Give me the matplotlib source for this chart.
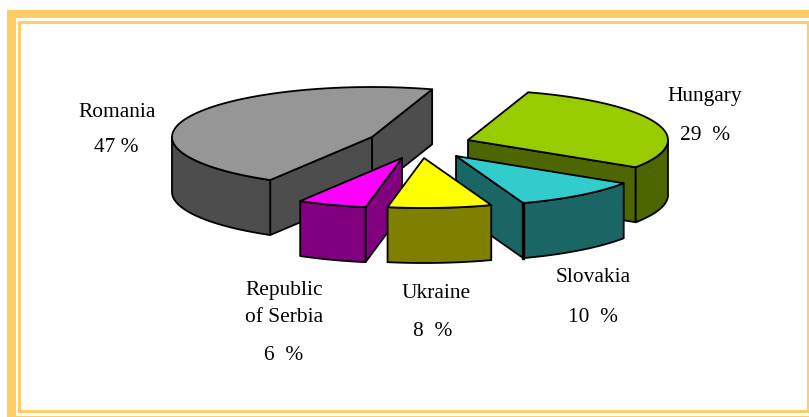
import numpy as np
import matplotlib
matplotlib.use('Agg')
import matplotlib.pyplot as plt
from matplotlib.patches import Polygon, Rectangle

# data, clockwise round the pie (slice sizes)
countries = ['Hungary', 'Slovakia', 'Ukraine', 'Republic\nof Serbia', 'Romania']
shares = [29.4, 10.4, 8.4, 5.6, 46.5]
share_labels = ['29  %', '10  %', '8  %', '6  %', '47 %']

# colours per slice
top_colors = ['#99cc00', '#33cccc', '#ffff00', '#ff00ff', '#969696']
wall_colors = ['#4d6600', '#1a6666', '#808000', '#800080', '#4d4d4d']

# layout, in pixels of the 809x417 picture
apexes = [(468, 140), (456, 156), (424, 158), (402, 158), (372, 137)]
name_pos = [(705, 96), (593, 278), (436, 293), (284, 304), (117, 112)]
pct_pos = [(705, 136), (593, 318), (433, 331), (284, 355), (116, 148)]
draw_order = [4, 0, 1, 3, 2]
radius_x = 200
radius_y = 50
depth = 55
frame = '#ffcc66'

plt.rcParams['font.family'] = 'Liberation Serif'
fig = plt.figure(figsize=(8.09, 4.17), dpi=100)
ax = fig.add_axes([0, 0, 1, 1])
ax.set_xlim(0, 809)
ax.set_ylim(417, 0)
ax.axis('off')

# gold frame, runs off the right and bottom of the picture
ax.add_patch(Rectangle((7, 10), 810, 410, fc=frame, ec='none', zorder=1))
ax.add_patch(Rectangle((16, 17.5), 800, 398.5, fc='white', ec='none', zorder=1))
ax.add_patch(Rectangle((18, 21), 800, 392, fc=frame, ec='none', zorder=1))
ax.add_patch(Rectangle((21, 24), 786, 386, fc='white', ec='none', zorder=1))


def draw_wall(pts, color, z):
    pts = np.array(pts)
    low = pts[::-1] + [0, depth]
    ax.add_patch(Polygon(np.vstack([pts, low]), closed=True, fc=color, ec='black',
                         lw=1.3, joinstyle='round', zorder=z))


# each angle is clockwise from the top
edges = 17.5 + np.cumsum([0] + shares) / sum(shares) * 360

# slices are drawn back to front
for n, i in enumerate(draw_order):
    ang = np.radians(np.linspace(edges[i], edges[i + 1], 60))
    cx, cy = apexes[i]
    arc = np.column_stack([cx + radius_x * np.sin(ang), cy - radius_y * np.cos(ang)])
    z = 2 + n
    apex = np.array([cx, cy])

    # radial walls, only those that face the viewer
    if arc[-1, 0] > cx:
        draw_wall([arc[-1], apex], wall_colors[i], z)
    if arc[0, 0] < cx:
        draw_wall([apex, arc[0]], wall_colors[i], z)
    # outer wall, where the rim runs right to left
    left = np.diff(arc[:, 0]) < 0
    vis = np.r_[left, False] | np.r_[False, left]
    if vis.any():
        draw_wall(arc[vis], wall_colors[i], z)
    # top face
    ax.add_patch(Polygon(np.vstack([apex, arc]), closed=True, fc=top_colors[i], ec='black',
                         lw=1.3, joinstyle='round', zorder=z))
    # Slovakia has a heavier corner line
    if countries[i] == 'Slovakia':
        ax.plot([arc[-1, 0]] * 2, [arc[-1, 1], arc[-1, 1] + depth], color='black', lw=2.4, zorder=z)

for name, label, p, q in zip(countries, share_labels, name_pos, pct_pos):
    ax.text(p[0], p[1], name, ha='center', va='center', fontsize=15.4, linespacing=1.5, zorder=20)
    ax.text(q[0], q[1], label, ha='center', va='center', fontsize=15.4, zorder=20)

fig.savefig('out.png', dpi=100)
